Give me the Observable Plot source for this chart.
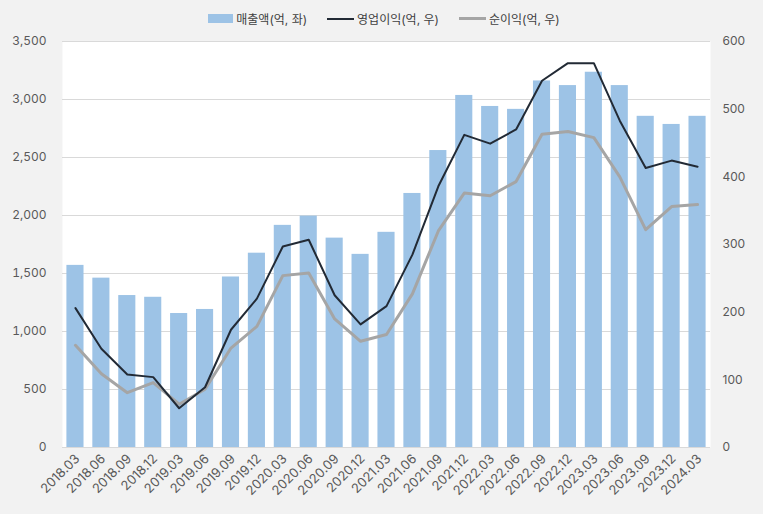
<!DOCTYPE html>
<html>
<head>
<meta charset="utf-8">
<script src="https://cdn.jsdelivr.net/npm/d3@7"></script>
<script src="https://cdn.jsdelivr.net/npm/@observablehq/plot@0.6"></script>
<style>
  html, body { margin: 0; padding: 0; background: #f2f2f2; }
  body { width: 763px; height: 514px; overflow: hidden; font-family: Inter, "Noto Sans CJK KR", sans-serif; }
  #legend { height: 30px; display: flex; justify-content: center; align-items: flex-end; gap: 20px; font-size: 12px; color: #404040; padding-left: 5px; box-sizing: border-box; padding-bottom: 3px; }
  .item { display: flex; align-items: center; gap: 3px; }
  .sw-bar { width: 25px; height: 9px; background: #9dc3e6; }
  .sw-line { width: 27px; height: 0; }
</style>
</head>
<body>
<div id="legend">
  <div class="item"><span class="sw-bar"></span><span>매출액(억, 좌)</span></div>
  <div class="item"><span class="sw-line" style="border-top:2px solid #222a35"></span><span>영업이익(억, 우)</span></div>
  <div class="item"><span class="sw-line" style="border-top:3px solid #a5a5a5"></span><span>순이익(억, 우)</span></div>
</div>
<div id="chart"></div>
<script>
const quarters = ["2018.03","2018.06","2018.09","2018.12","2019.03","2019.06","2019.09","2019.12","2020.03","2020.06","2020.09","2020.12","2021.03","2021.06","2021.09","2021.12","2022.03","2022.06","2022.09","2022.12","2023.03","2023.06","2023.09","2023.12","2024.03"];
const sales = [1570,1460,1310,1295,1155,1190,1470,1675,1915,1995,1805,1665,1855,2190,2560,3035,2940,2915,3160,3120,3235,3120,2855,2785,2855];
const opProfit = [206,146,108,104,58,89,174,220,297,307,225,182,209,285,386,462,449,470,542,568,568,483,413,424,415];
const netProfit = [151,109,81,96,64,86,147,179,254,258,190,157,167,227,320,376,372,393,463,467,458,400,322,356,359];
const leftTicks = [0,500,1000,1500,2000,2500,3000,3500];
const rightTicks = [0,100,200,300,400,500,600];

const k = 3500 / 600;
const rows = quarters.map((q, i) => ({q, sales: sales[i], op: opProfit[i], np: netProfit[i]}));

const chart = Plot.plot({
  width: 763,
  height: 484,
  marginTop: 11,
  marginBottom: 67,
  marginLeft: 62,
  marginRight: 53,
  style: {background: "transparent", fontFamily: "Inter, 'Noto Sans CJK KR', sans-serif", fontSize: "12px", color: "#595959"},
  x: {domain: quarters, paddingInner: 0.34, paddingOuter: 0.17, round: false, label: null},
  y: {domain: [0, 3500], label: null},
  marks: [
    Plot.frame({fill: "white", stroke: null}),
    Plot.gridY(leftTicks, {stroke: "#d9d9d9", strokeOpacity: 1}),
    Plot.barY(rows, {x: "q", y: "sales", fill: "#9dc3e6"}),
    Plot.ruleY([0], {stroke: "#d9d9d9"}),
    Plot.line(rows, {x: "q", y: d => d.np * k, stroke: "#a5a5a5", strokeWidth: 3}),
    Plot.line(rows, {x: "q", y: d => d.op * k, stroke: "#222a35", strokeWidth: 2}),
    Plot.axisY(leftTicks, {anchor: "left", tickSize: 0, tickPadding: 16, tickFormat: d3.format(","), fill: "#595959", fontSize: 12}),
    Plot.text(rightTicks, {y: d => d * k, text: d => String(d), frameAnchor: "right", dx: 12, textAnchor: "start", fill: "#595959", fontSize: 12}),
    Plot.axisX({tickSize: 0, tickRotate: -45, tickPadding: 9, fill: "#595959", fontSize: 13, dx: 2})
  ]
});
document.getElementById("chart").appendChild(chart);
</script>
</body>
</html>
